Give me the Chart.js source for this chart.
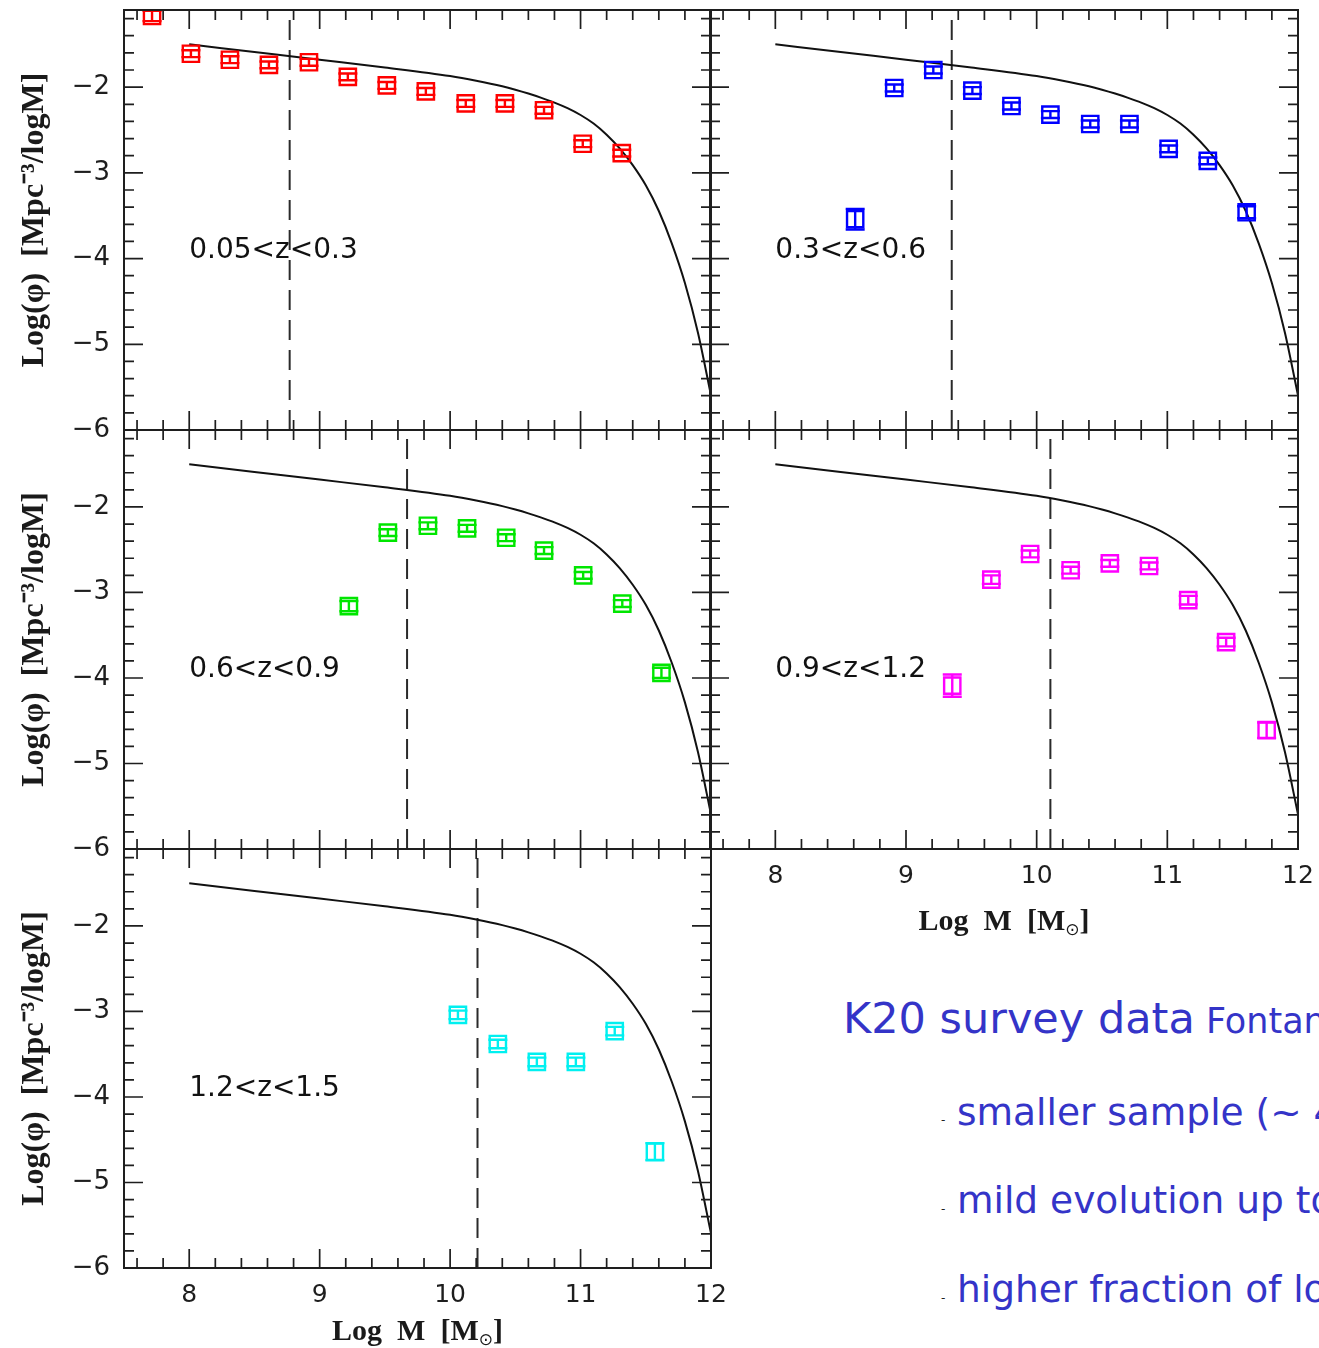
<!DOCTYPE html>
<html>
<head>
<meta charset="utf-8">
<title>Galaxy stellar mass function, K20 survey</title>
<script src="https://cdn.jsdelivr.net/npm/chart.js@4.4.1/dist/chart.umd.min.js"></script>
<style>
  html, body { margin: 0; padding: 0; background: #fff; }
  body { width: 1319px; height: 1348px; overflow: hidden; position: relative; }
  canvas { position: absolute; }
  .note { position: absolute; white-space: nowrap; color: #3434c8; font-family: "DejaVu Sans", Verdana, sans-serif; line-height: 1; }
  .dash { position: absolute; white-space: nowrap; color: #222; font-family: "DejaVu Sans", sans-serif; font-size: 12px; line-height: 1; }
</style>
</head>
<body>
<canvas id="p1" width="740" height="450" style="left:0px;top:0px"></canvas>
<canvas id="p2" width="640" height="450" style="left:690px;top:0px"></canvas>
<canvas id="p3" width="740" height="449" style="left:0px;top:420px"></canvas>
<canvas id="p4" width="640" height="529" style="left:690px;top:420px"></canvas>
<canvas id="p5" width="740" height="509" style="left:0px;top:839px"></canvas>

<div class="note" style="left:843px;top:997px;font-size:43px">K20 survey data<span style="font-size:35px"> Fontana et al. 2004</span></div>
<div class="dash" style="left:941px;top:1114px">-</div>
<div class="note" style="left:957px;top:1094px;font-size:37.5px">smaller sample (~ 480 galaxies)</div>
<div class="dash" style="left:941px;top:1203px">-</div>
<div class="note" style="left:957px;top:1182px;font-size:37.5px">mild evolution up to z~1</div>
<div class="dash" style="left:941px;top:1292px">-</div>
<div class="note" style="left:957px;top:1271px;font-size:37.5px">higher fraction of low mass galaxies</div>

<script>
// Axis ticks (log stellar mass, log number density)
const massTicks = [8, 9, 10, 11, 12];
const phiTicks = [-6, -5, -4, -3, -2];

// Local reference mass function (solid curve), same in every redshift bin
const massCurve = [8.0, 8.5, 9.0, 9.5, 10.0, 10.2, 10.4, 10.5, 10.6, 10.7, 10.8, 10.9, 11.0, 11.1, 11.2, 11.3, 11.4, 11.5, 11.6, 11.7, 11.8, 11.9, 12.0];
const phiCurve  = [-1.50, -1.59, -1.68, -1.77, -1.87, -1.925, -1.99, -2.03, -2.075, -2.125, -2.18, -2.245, -2.325, -2.425, -2.555, -2.715, -2.91, -3.145, -3.445, -3.825, -4.285, -4.865, -5.595];

// Redshift bins
const zBins = ['0.05<z<0.3', '0.3<z<0.6', '0.6<z<0.9', '0.9<z<1.2', '1.2<z<1.5'];

// Mass completeness limit of each bin (dashed line)
const massLimits = [8.77, 9.35, 9.67, 10.105, 10.21];

// 0.05 < z < 0.3
const massZ1 = [7.715, 8.013, 8.312, 8.611, 8.918, 9.216, 9.515, 9.814, 10.12, 10.42, 10.72, 11.017, 11.316];
const phiZ1  = [-1.17, -1.61, -1.68, -1.74, -1.71, -1.88, -1.98, -2.05, -2.19, -2.19, -2.27, -2.66, -2.77];
const errZ1  = [0.06, 0.04, 0.04, 0.04, 0.04, 0.04, 0.04, 0.04, 0.04, 0.04, 0.04, 0.04, 0.04];

// 0.3 < z < 0.6
const massZ2 = [8.611, 8.91, 9.209, 9.508, 9.807, 10.105, 10.41, 10.71, 11.01, 11.31, 11.607];
const phiZ2  = [-3.54, -2.01, -1.80, -2.04, -2.22, -2.32, -2.43, -2.43, -2.72, -2.86, -3.46];
const errZ2  = [0.12, 0.04, 0.04, 0.04, 0.04, 0.04, 0.04, 0.04, 0.04, 0.04, 0.07];

// 0.6 < z < 0.9
const massZ3 = [9.224, 9.523, 9.83, 10.13, 10.43, 10.72, 11.02, 11.32, 11.62];
const phiZ3  = [-3.16, -2.30, -2.22, -2.25, -2.36, -2.51, -2.80, -3.13, -3.94];
const errZ3  = [0.06, 0.04, 0.04, 0.04, 0.04, 0.04, 0.04, 0.04, 0.06];

// 0.9 < z < 1.2
const massZ4 = [9.354, 9.653, 9.95, 10.26, 10.56, 10.86, 11.16, 11.45, 11.76];
const phiZ4  = [-4.09, -2.85, -2.55, -2.74, -2.66, -2.69, -3.09, -3.58, -4.61];
const errZ4  = [0.13, 0.05, 0.04, 0.04, 0.04, 0.04, 0.05, 0.05, 0.09];

// 1.2 < z < 1.5
const massZ5 = [10.06, 10.366, 10.665, 10.964, 11.262, 11.57];
const phiZ5  = [-3.04, -3.38, -3.59, -3.59, -3.23, -4.64];
const errZ5  = [0.05, 0.05, 0.05, 0.05, 0.05, 0.10];

const xTickFont = { family: 'DejaVu Sans', size: 25 };
const yTickFont = { family: 'DejaVu Sans', size: 26 };
const inkColor = '#1e1e1e';

// Frame with inward ticks on all four sides, error bars, bin label and x-axis title
const framePlugin = {
  id: 'frame',
  afterDatasetsDraw(chart, args, opts) {
    const { ctx, chartArea: a, scales: { x, y } } = chart;

    // error bars on the binned points
    ctx.save();
    ctx.beginPath();
    ctx.rect(a.left, a.top, a.right - a.left, a.bottom - a.top);
    ctx.clip();
    ctx.strokeStyle = opts.color;
    ctx.lineWidth = 2.4;
    const cap = 9.5;
    opts.mass.forEach((m, i) => {
      const px = x.getPixelForValue(m);
      const top = y.getPixelForValue(opts.phi[i] + opts.err[i]);
      const bot = y.getPixelForValue(opts.phi[i] - opts.err[i]);
      ctx.beginPath();
      ctx.moveTo(px, top); ctx.lineTo(px, bot);
      ctx.moveTo(px - cap, top); ctx.lineTo(px + cap, top);
      ctx.moveTo(px - cap, bot); ctx.lineTo(px + cap, bot);
      ctx.stroke();
    });
    ctx.restore();

    // box and ticks
    ctx.save();
    ctx.strokeStyle = inkColor;
    ctx.lineWidth = 2;
    ctx.strokeRect(a.left, a.top, a.right - a.left, a.bottom - a.top);
    ctx.lineWidth = 1.7;
    ctx.beginPath();
    for (let k = Math.ceil(x.min * 5 + 0.01); k < x.max * 5 - 0.01; k++) {
      const px = x.getPixelForValue(k / 5);
      const len = (k % 5 === 0) ? 19 : 10;
      ctx.moveTo(px, a.bottom); ctx.lineTo(px, a.bottom - len);
      ctx.moveTo(px, a.top); ctx.lineTo(px, a.top + len);
    }
    for (let k = Math.ceil(y.min * 5 + 0.01); k < y.max * 5 - 0.01; k++) {
      const py = y.getPixelForValue(k / 5);
      const len = (k % 5 === 0) ? 19 : 10;
      ctx.moveTo(a.left, py); ctx.lineTo(a.left + len, py);
      ctx.moveTo(a.right, py); ctx.lineTo(a.right - len, py);
    }
    ctx.stroke();

    // redshift bin label
    ctx.fillStyle = '#111';
    ctx.font = '28px "DejaVu Sans"';
    ctx.textAlign = 'left';
    ctx.textBaseline = 'alphabetic';
    ctx.fillText(opts.label, x.getPixelForValue(8.0), y.getPixelForValue(-3.99));

    // x-axis title with subscript solar symbol
    if (opts.xTitle) {
      const main = 'Log  M  [M';
      const mainFont = 'bold 30px "Liberation Serif"';
      const subFont = '17px "DejaVu Sans"';
      ctx.font = mainFont;
      const w1 = ctx.measureText(main).width;
      const w3 = ctx.measureText(']').width;
      ctx.font = subFont;
      const w2 = ctx.measureText('⊙').width;
      const base = a.bottom + opts.titleBase;
      let sx = (a.left + a.right) / 2 - (w1 + w2 + w3) / 2;
      ctx.fillStyle = '#1a1a1a';
      ctx.font = mainFont;
      ctx.fillText(main, sx, base);
      ctx.font = subFont;
      ctx.fillText('⊙', sx + w1, base + 5);
      ctx.font = mainFont;
      ctx.fillText(']', sx + w1 + w2, base);
    }
    ctx.restore();
  }
};

function makePanel(id, p) {
  const pts = p.mass.map((m, i) => ({ x: m, y: p.phi[i] }));
  const curve = massCurve.map((m, i) => ({ x: m, y: phiCurve[i] }));
  const limit = [{ x: p.limit, y: -6 }, { x: p.limit, y: -1.1 }];
  return new Chart(document.getElementById(id), {
    type: 'scatter',
    data: {
      datasets: [
        { data: pts, pointStyle: 'rect', pointRadius: 11.5, pointHoverRadius: 11.5,
          borderColor: p.color, backgroundColor: 'rgba(255,255,255,0)', borderWidth: 2.4 },
        { data: curve, showLine: true, pointRadius: 0, borderColor: '#111', borderWidth: 2,
          cubicInterpolationMode: 'monotone', fill: false },
        { data: limit, showLine: true, pointRadius: 0, borderColor: '#2a2a2a', borderWidth: 2,
          borderDash: [20, 10], fill: false }
      ]
    },
    options: {
      responsive: false,
      animation: false,
      events: [],
      layout: { autoPadding: false, padding: { top: 10, right: p.padRight, left: 0, bottom: 0 } },
      plugins: {
        legend: { display: false },
        tooltip: { enabled: false },
        frame: { mass: p.mass, phi: p.phi, err: p.err, color: p.color, label: p.label,
                 xTitle: p.xLabels, titleBase: p.titleBase || 0 }
      },
      scales: {
        x: {
          type: 'linear', min: 7.5, max: 12,
          grid: { display: false, drawTicks: false },
          border: { display: false },
          ticks: { display: p.xLabels, font: xTickFont, color: inkColor, padding: 12, maxRotation: 0 },
          afterBuildTicks: s => { s.ticks = massTicks.map(v => ({ value: v })); },
          afterFit: s => { s.height = p.xAxisH; s.paddingLeft = 0; s.paddingRight = 0; }
        },
        y: {
          type: 'linear', min: -6, max: -1.1,
          grid: { display: false, drawTicks: false },
          border: { display: false },
          ticks: { display: p.yLabels, font: yTickFont, color: inkColor, padding: 14,
                   callback: v => '\u2212' + Math.abs(v) },
          title: { display: p.yLabels, text: 'Log(φ)  [Mpc⁻³/logM]', color: '#1a1a1a',
                   font: { family: 'Liberation Serif', size: 32, weight: 'bold' },
                   padding: { top: 16, bottom: 0 } },
          afterBuildTicks: s => { s.ticks = phiTicks.map(v => ({ value: v })); },
          afterFit: s => { s.width = p.yAxisW; s.paddingTop = 0; s.paddingBottom = 0; }
        }
      }
    },
    plugins: [framePlugin]
  });
}

const left = { yLabels: true, yAxisW: 124, padRight: 29 };
const right = { yLabels: false, yAxisW: 20, padRight: 32 };

makePanel('p1', Object.assign({}, left, { mass: massZ1, phi: phiZ1, err: errZ1, color: '#ff0000',
  label: zBins[0], limit: massLimits[0], xLabels: false, xAxisH: 20 }));
makePanel('p2', Object.assign({}, right, { mass: massZ2, phi: phiZ2, err: errZ2, color: '#0000ff',
  label: zBins[1], limit: massLimits[1], xLabels: false, xAxisH: 20 }));
makePanel('p3', Object.assign({}, left, { mass: massZ3, phi: phiZ3, err: errZ3, color: '#00e600',
  label: zBins[2], limit: massLimits[2], xLabels: false, xAxisH: 20 }));
makePanel('p4', Object.assign({}, right, { mass: massZ4, phi: phiZ4, err: errZ4, color: '#ff00ff',
  label: zBins[3], limit: massLimits[3], xLabels: true, xAxisH: 100, titleBase: 81 }));
makePanel('p5', Object.assign({}, left, { mass: massZ5, phi: phiZ5, err: errZ5, color: '#00f0f0',
  label: zBins[4], limit: massLimits[4], xLabels: true, xAxisH: 80, titleBase: 72 }));
</script>
</body>
</html>
